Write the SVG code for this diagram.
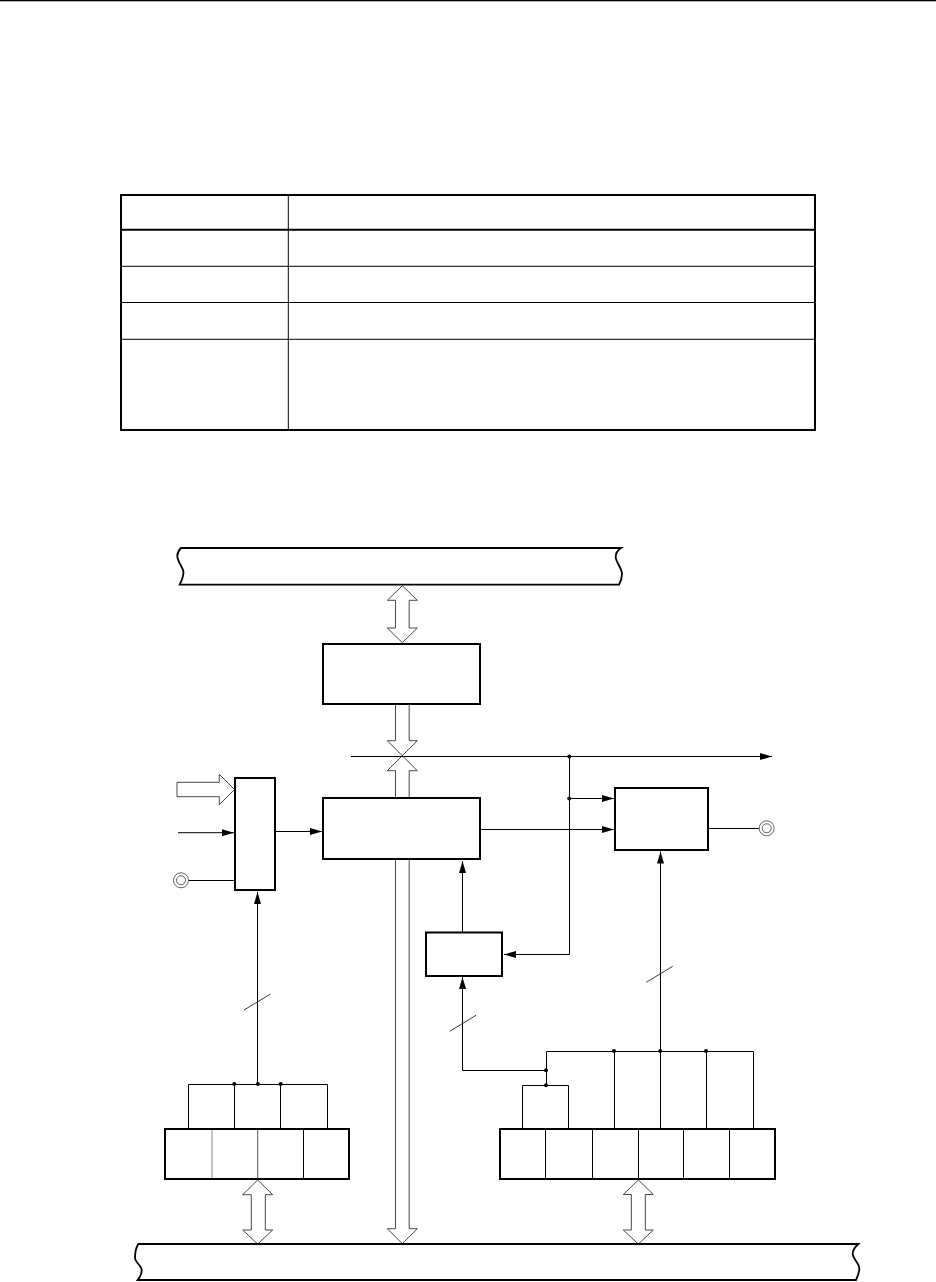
<svg xmlns="http://www.w3.org/2000/svg" width="936" height="1282" viewBox="0 0 936 1282">
<style>
.box{fill:#fff;stroke:#000;stroke-width:2}
.div{stroke:#000;stroke-width:1;fill:none}
.thin{stroke:#000;stroke-width:1;fill:none}
.tick{stroke:#222;stroke-width:.9;fill:none}
.hollow{fill:#fff;stroke:#333;stroke-width:.9;stroke-linejoin:miter}
.bus{fill:#fff;stroke:#000;stroke-width:1.8}
.ring{fill:#fff;stroke:#222;stroke-width:.7}
.arrow{marker-end:url(#head)}
</style>
<defs>
<marker id="head" markerUnits="userSpaceOnUse" markerWidth="13" markerHeight="8" refX="12" refY="3.5" orient="auto">
<path d="M0,0 L12,3.5 L0,7 Z" fill="#000"/>
</marker>
<circle id="dot" r="2" fill="#000"/>
</defs>
<rect width="936" height="1282" fill="#fff"/>
<rect id="page-rule" x="0" y="0" width="936" height="1.3" fill="#000"/>
<g id="table">
<rect x="121" y="195" width="694" height="235" fill="#fff" stroke="#000" stroke-width="2"/>
<path d="M121,229.7H815" stroke="#000" stroke-width="2"/>
<path class="div" d="M121,266.3H815M121,302.5H815M121,339.3H815M288.3,195V430"/>
</g>
<g id="connectors">
<path class="hollow" d="M395.5,704 V740.7 H387.3 L417.3,770.7 H409.2 V1228.7 H417.3 L402.3,1243.7 L387.3,1228.7 H395.5 V770.7 H387.3 L417.3,740.7 H409.2 V704"/>
<path class="hollow" d="M402.3,585.7 L417.3,600.3 H409.2 V628 H417.3 L402.3,642.7 L387.3,628 H395.5 V600.3 H387.3 Z"/>
<path class="hollow" d="M257.7,1180 L272.7,1194.7 H265.3 V1230 H272.7 L257.7,1244 L242.7,1230 H251.3 V1194.7 H242.7 Z"/>
<path class="hollow" d="M638.3,1180 L653.3,1194.5 H645.3 V1230 H653.3 L638.3,1244 L623.3,1230 H631.3 V1194.5 H623.3 Z"/>
<path class="hollow" d="M177,782.3 H219.3 V774.3 L234.5,789.5 L219.3,804.7 V796.7 H177 Z"/>
<path class="thin arrow" d="M351,756.5 H772"/>
<path class="thin arrow" d="M178,832.7 H234"/>
<path class="thin" d="M188,880.5 H235"/>
<path class="thin arrow" d="M275,831.5 H322"/>
<path class="thin arrow" d="M480,829.5 H614"/>
<path class="thin arrow" d="M569.5,756.5 V954.5 H504"/>
<path class="thin arrow" d="M569.5,798.5 H614"/>
<path class="thin" d="M708,828.5 H759"/>
<path class="thin arrow" d="M660.5,1051 V851.5"/>
<path class="thin arrow" d="M462.5,932 V861"/>
<path class="thin arrow" d="M546.5,1070.5 H462.5 V977"/>
<path class="thin arrow" d="M257.5,1084 V892"/>
<path class="thin" d="M188.5,1129 V1084.5 H327.5 V1129 M234.5,1084 V1129 M280.5,1084 V1129"/>
<path class="thin" d="M546.5,1085.5 V1051.5 H753.5 V1129 M614.5,1051 V1129 M660.5,1051 V1129 M706.5,1051 V1129"/>
<path class="thin" d="M522.5,1129 V1085.5 H568.5 V1129"/>
<path class="tick" d="M646.3,982.3 L672.7,966.3"/>
<path class="tick" d="M449.7,1031.3 L476,1015.3"/>
<path class="tick" d="M244,1010 L270.5,994"/>
<use href="#dot" x="569.3" y="756.5"/>
<use href="#dot" x="569.3" y="798.5"/>
<use href="#dot" x="234.3" y="1084"/>
<use href="#dot" x="257.8" y="1084"/>
<use href="#dot" x="280.7" y="1084"/>
<use href="#dot" x="614" y="1051"/>
<use href="#dot" x="660.3" y="1051"/>
<use href="#dot" x="706" y="1051"/>
<use href="#dot" x="546" y="1070.3"/>
<use href="#dot" x="546" y="1085.3"/>
</g>
<g id="bus-top"><path class="bus" d="M181,548 H621 C618,550 615.7,553 615.7,557 C615.7,562 622,568 622,574 C622,578 620.5,582 619,584.7 H179.7 C182,580 184,575 183.3,571 C182,566 177.3,561 177.3,556 C177.3,553 179,550 181,548 Z"/></g>
<g id="bus-bottom"><path class="bus" d="M138.3,1244 H858.3 C855,1247 852.7,1250 852.7,1253.5 C852.7,1259 859.3,1263 859.3,1268.5 C859.3,1273 857.5,1277 856,1280 H137.7 C140,1277 141.7,1273 141.7,1270 C141.7,1266 135,1262 135,1258 C135,1252 136.5,1247 138.3,1244 Z"/></g>
<g id="box-upper"><rect class="box" x="323" y="644" width="157" height="60"/></g>
<g id="box-main"><rect class="box" x="323" y="798" width="157" height="61"/></g>
<g id="box-mux"><rect class="box" x="235" y="778" width="40" height="112"/></g>
<g id="box-output"><rect class="box" x="615" y="788" width="93" height="62"/></g>
<g id="box-small"><rect class="box" x="426" y="932.5" width="76" height="43.5"/></g>
<g id="register-left">
<rect class="box" x="165" y="1129" width="184" height="50"/>
<path stroke="#999" stroke-width="1.2" d="M212,1130V1178"/>
<path stroke="#555" stroke-width="1" d="M257.7,1130V1178"/>
<path class="div" d="M303.5,1130V1178"/>
</g>
<g id="register-right">
<rect class="box" x="500" y="1129" width="275" height="50"/>
<path class="div" d="M545.5,1129V1179M592.5,1129V1179M638.5,1129V1179M683.5,1129V1179M729.5,1129V1179"/>
</g>
<g id="terminal-in"><circle class="ring" cx="181" cy="880.3" r="7.5"/><circle class="ring" cx="181" cy="880.3" r="4.5"/></g>
<g id="terminal-out"><circle class="ring" cx="766.7" cy="828.3" r="7.5"/><circle class="ring" cx="766.7" cy="828.3" r="4.5"/></g>
</svg>
